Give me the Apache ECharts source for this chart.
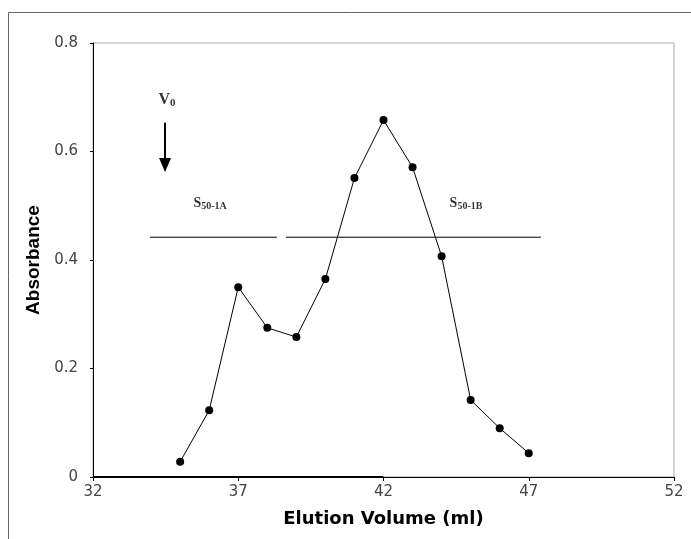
<!DOCTYPE html>
<html><head><meta charset="utf-8">
<script src="https://cdn.jsdelivr.net/npm/echarts@6/dist/echarts.min.js"></script>
<style>html,body{margin:0;padding:0;background:#fff}#c{width:691px;height:539px}</style>
</head><body><div id="c"></div>
<script>
const elutionVolume = [35, 36, 37, 38, 39, 40, 41, 42, 43, 44, 45, 46, 47];
const absorbance = [0.028, 0.123, 0.350, 0.275, 0.258, 0.365, 0.551, 0.658, 0.571, 0.407, 0.142, 0.090, 0.044];
const fractionA = [[33.96, 0.442], [38.33, 0.442]];
const fractionB = [[38.64, 0.442], [47.42, 0.442]];
const arrowV0 = [[34.48, 0.653], [34.48, 0.575]];
const labelV0 = [34.55, 0.695];
const labelA = [36.03, 0.505];
const labelB = [44.84, 0.505];
const xTicks = [32, 37, 42, 47, 52];
const yTicks = [0, 0.2, 0.4, 0.6, 0.8];

const chart = echarts.init(document.getElementById('c'));
const font = 'DejaVu Sans, Verdana, sans-serif';
const arial = 'Liberation Sans, Arial, sans-serif';
const serif = 'Liberation Serif, Times New Roman, serif';
chart.setOption({
  animation: false,
  backgroundColor: '#fff',
  grid: { left: 93, right: 17, top: 43, bottom: 62, show: true, borderColor: '#aaa', borderWidth: 1 },
  graphic: [{ type: 'rect', shape: { x: 8.5, y: 12.5, width: 720, height: 560 }, style: { fill: 'none', stroke: '#666', lineWidth: 1 }, silent: true, z: -1 }],
  xAxis: {
    type: 'value', min: xTicks[0], max: xTicks[xTicks.length - 1], interval: 5,
    name: 'Elution Volume (ml)', nameLocation: 'middle', nameGap: 33,
    nameTextStyle: { fontFamily: font, fontSize: 18, fontWeight: 'bold', color: '#000' },
    axisLine: { lineStyle: { color: '#000', width: 1 } },
    axisTick: { show: true, length: 4, lineStyle: { color: '#000' } },
    axisLabel: { fontFamily: font, fontSize: 15, color: '#444', margin: 8 },
    splitLine: { show: false }
  },
  yAxis: {
    type: 'value', min: yTicks[0], max: yTicks[yTicks.length - 1], interval: 0.2,
    name: 'Absorbance', nameLocation: 'middle', nameGap: 47, nameRotate: 90,
    nameTextStyle: { fontFamily: arial, fontSize: 19, fontWeight: 'bold', color: '#000' },
    axisLine: { show: true, lineStyle: { color: '#000', width: 1 } },
    axisTick: { show: true, length: 3, lineStyle: { color: '#000' } },
    axisLabel: { fontFamily: font, fontSize: 15, color: '#444', margin: 15, formatter: v => String(+v.toFixed(1)) },
    splitLine: { show: false }
  },
  series: [
    {
      type: 'line', data: elutionVolume.map((x, i) => [x, absorbance[i]]),
      symbol: 'circle', symbolSize: 8, itemStyle: { color: '#000' },
      lineStyle: { color: '#000', width: 1 }, z: 5
    },
    { type: 'line', data: fractionA, symbol: 'none', lineStyle: { color: '#000', width: 1 } },
    { type: 'line', data: fractionB, symbol: 'none', lineStyle: { color: '#000', width: 1 } },
    {
      type: 'line', data: [[32, 0], [42, 0]], symbol: 'none', lineStyle: { color: '#000', width: 2 },
      markLine: {
        silent: true, symbol: ['none', 'triangle'], symbolSize: [12, 14], label: { show: false },
        lineStyle: { color: '#000', width: 2, type: 'solid' },
        data: [[{ coord: arrowV0[0] }, { coord: arrowV0[1] }]]
      }
    },
    {
      type: 'scatter', symbolSize: 0, silent: true,
      data: [
        { value: labelV0, label: { show: true, position: 'inside', formatter: '{a|V}{b|0}' } },
        { value: labelA, label: { show: true, position: 'inside', formatter: '{c|S}{d|50-1A}' } },
        { value: labelB, label: { show: true, position: 'inside', formatter: '{c|S}{d|50-1B}' } }
      ],
      label: {
        rich: {
          a: { fontFamily: serif, fontSize: 16, fontWeight: 'bold', color: '#000' },
          b: { fontFamily: serif, fontSize: 11, fontWeight: 'bold', color: '#000', padding: [7, 0, 0, 0] },
          c: { fontFamily: serif, fontSize: 14, fontWeight: 'bold', color: '#000' },
          d: { fontFamily: serif, fontSize: 10, fontWeight: 'bold', color: '#000', padding: [6, 0, 0, 0] }
        }
      }
    }
  ]
});
</script></body></html>
